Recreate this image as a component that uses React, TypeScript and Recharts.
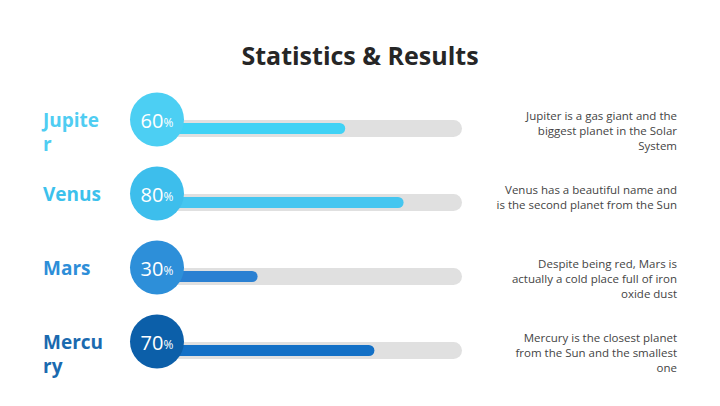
import React from 'react';
import { BarChart, Bar, XAxis, YAxis, LabelList } from 'recharts';

const planets = ['Jupiter', 'Venus', 'Mars', 'Mercury'];
const nameLines = [['Jupite', 'r'], ['Venus'], ['Mars'], ['Mercu', 'ry']];
const percents = [60, 80, 30, 70];
const circleColors = ['#4ccff3', '#3dbeec', '#2d8fd9', '#0c5fa9'];
const barColors = ['#40d2f5', '#45c6f0', '#2a80d2', '#1370c6'];
const labelColors = ['#4fcdf2', '#3cc1ec', '#2d8ed8', '#1b6aaf'];
const descriptions = [
    ['Jupiter is a gas giant and the', 'biggest planet in the Solar', 'System'],
    ['Venus has a beautiful name and', 'is the second planet from the Sun'],
    ['Despite being red, Mars is', 'actually a cold place full of iron', 'oxide dust'],
    ['Mercury is the closest planet', 'from the Sun and the smallest', 'one'],
];

const data = planets.map((name, i) => ({ name, value: percents[i], track: 100 }));

const FONT = '"Open Sans", "Noto Sans", sans-serif';

const RowDecor = (props: any) => {
    const { x, y, height, index } = props;
    const cy = y + height / 2 - 9;
    const cx = x - 13;
    const lines = nameLines[index];
    const desc = descriptions[index];
    const descTop = cy - 4.5;
    return (
        <g>
            <circle cx={cx} cy={cy} r={27} fill={circleColors[index]} />
            <text x={cx} y={cy} textAnchor="middle" dominantBaseline="central" fill="#fff" fontFamily={FONT}>
                <tspan fontSize={20}>{percents[index]}</tspan>
                <tspan fontSize={12} dy={2}>%</tspan>
            </text>
            {lines.map((l, j) => (
                <text key={j} x={43} y={cy + j * 24} dominantBaseline="central" fill={labelColors[index]}
                    fontFamily={FONT} fontWeight={700} fontSize={19}>{l}</text>
            ))}
            {desc.map((l, j) => (
                <text key={'d' + j} x={677} y={descTop + j * 15} textAnchor="end" dominantBaseline="central"
                    fill="#444" fontFamily={FONT} fontSize={11.5}>{l}</text>
            ))}
        </g>
    );
};

export default function App() {
    return (
        <div style={{ position: 'absolute', left: 0, top: 0, width: 720, height: 406, background: '#fff' }}>
            <div style={{ position: 'absolute', left: 0, top: 38, width: 720, textAlign: 'center',
                fontFamily: FONT, fontWeight: 700, fontSize: 25, color: '#262626' }}>
                Statistics &amp; Results
            </div>
            <BarChart width={720} height={406} data={data} layout="vertical"
                margin={{ top: 91, right: 258, bottom: 19, left: 170 }}>
                <XAxis type="number" domain={[0, 100]} hide />
                <YAxis yAxisId="track" type="category" dataKey="name" hide />
                <YAxis yAxisId="fill" type="category" dataKey="name" hide />
                <Bar yAxisId="track" dataKey="track" barSize={17} radius={8.5} fill="#e0e0e0" isAnimationActive={false} />
                <Bar yAxisId="fill" dataKey="value" barSize={11} radius={5.5} isAnimationActive={false}
                    shape={(p: any) => (
                        <rect x={p.x} y={p.y} width={p.width} height={p.height} rx={5.5} ry={5.5} fill={barColors[p.index]} />
                    )}>
                    <LabelList dataKey="value" content={RowDecor} />
                </Bar>
            </BarChart>
        </div>
    );
}
